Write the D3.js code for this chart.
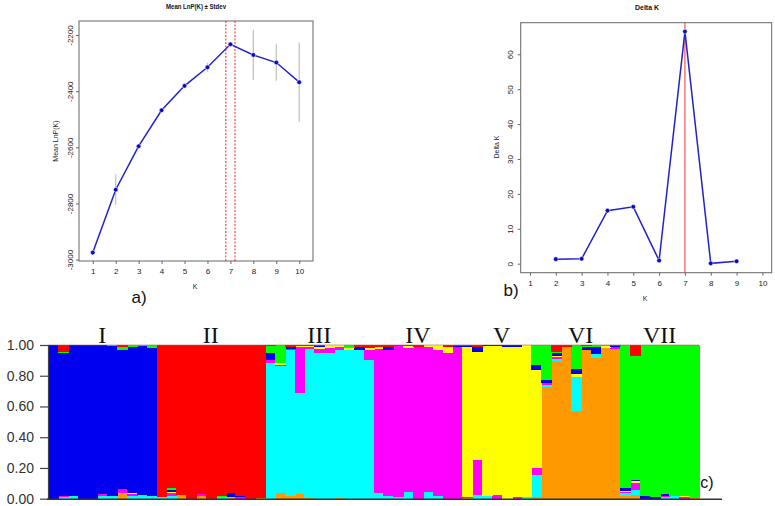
<!DOCTYPE html>
<html><head><meta charset="utf-8">
<script src="https://cdn.jsdelivr.net/npm/d3@7/dist/d3.min.js"></script>
<style>body{margin:0;background:#fff}svg{display:block}</style>
</head><body><svg id="c" width="775" height="506"></svg>
<script>
// ---------- Panel a: Mean LnP(K) ± Stdev ----------
const kValues = [1,2,3,4,5,6,7,8,9,10];
const lnpMean = [-2975,-2751,-2596,-2468,-2381,-2315,-2233,-2271,-2298,-2368];
const lnpSd   = [5,54,8,5,5,16,5,90,65,141];
const lnpTicks = [-3000,-2800,-2600,-2400,-2200];
const lnpMarks = [6.8,7.2];

// ---------- Panel b: Delta K ----------
const deltaKs = [2,3,4,5,6,7,8,9];
const deltaVals = [1.3,1.4,15.2,16.3,0.9,66.5,0.1,0.7];
const deltaTicks = [0,10,20,30,40,50,60];
const deltaMark = 7;

// ---------- Panel c: STRUCTURE bar plot (K = 7) ----------
const groupLabels = ["I","II","III","IV","V","VI","VII"];
const groupSizes  = [11,11,11,9,8,8,8];
const clusterKeys = ["orange","cyan","magenta","yellow","blue","green","red"];
const clusterColors = ["#ff9900","#00ffff","#ff00ff","#ffff00","#0000f0","#00ff00","#ff0000"];
const qOrange = [0,0,0,0,0,0,0,0.03,0,0,0, 0,0,0.025,0,0.02,0,0,0.005,0,0,0.005,
  0,0.04,0.015,0.03,0.005,0,0,0.005,0,0,0, 0,0,0,0,0,0,0,0,0,
  0.005,0,0,0,0,0,0,0.01, 0.725,0.895,0.985,0.57,0.965,0.915,0.98,0.975, 0.02,0.025,0,0,0,0,0,0.005];
const qCyan = [0,0.01,0.015,0,0,0.015,0.015,0.01,0.02,0.025,0.015, 0.01,0.02,0,0,0,0,0.01,0.005,0,0,0,
  0.88,0.825,0.95,0.655,0.97,0.945,0.95,0.96,0.97,0.965,0.90, 0.04,0.015,0.01,0.045,0,0.045,0.015,0,0,
  0,0.025,0.015,0,0,0,0.01,0.145, 0.015,0.015,0,0.225,0,0.025,0,0, 0.015,0.03,0,0,0.01,0.015,0,0];
const qMagenta = [0,0.01,0,0,0,0.015,0,0.02,0.01,0,0.005, 0,0.02,0,0,0.01,0,0,0,0.01,0,0,
  0.02,0.005,0.01,0.30,0.01,0.03,0.03,0.02,0,0.005,0.07, 0.935,0.955,0.985,0.935,0.985,0.94,0.955,0.945,0.985,
  0.005,0.225,0,0.025,0,0.01,0,0.045, 0.01,0.015,0.005,0,0,0,0,0.01, 0.01,0.05,0,0,0.01,0,0.01,0];
const qYellow = [0,0,0,0,0,0,0,0,0.005,0,0, 0,0.005,0,0,0,0,0,0,0,0,0,
  0,0.01,0,0.01,0.01,0.01,0.02,0.015,0.01,0,0.01, 0.015,0,0,0.015,0,0.015,0.03,0.04,0,
  0.98,0.705,0.98,0.97,0.99,0.98,0.99,0.64, 0,0.005,0,0.015,0,0,0.015,0, 0.005,0.01,0,0,0,0,0.01,0];
const qBlue = [1,0.93,0.985,1,1,0.97,0.98,0.905,0.955,0.97,0.96, 0,0.01,0,0,0,0,0,0.025,0.005,0,0,
  0.045,0,0.015,0,0,0.01,0,0,0,0.02,0, 0,0.02,0,0,0.005,0,0,0.005,0.01,
  0.005,0.033,0.005,0.005,0.01,0.01,0,0.03, 0.02,0.015,0,0.033,0.02,0.045,0,0.01, 0.02,0.005,0.015,0.012,0.01,0,0,0];
const qGreen = [0,0.005,0,0,0,0,0.005,0.025,0.01,0.005,0.02, 0,0.015,0,0,0,0,0.01,0.005,0,0,0,
  0.05,0.12,0,0,0,0,0,0,0.02,0,0, 0,0,0,0,0,0,0,0,0,
  0,0,0,0,0,0,0,0.13, 0.23,0.01,0,0.157,0.01,0.015,0.005,0, 0.93,0.81,0.985,0.988,0.97,0.985,0.98,0.995];
const qRed = [0,0.045,0,0,0,0,0,0.01,0,0,0, 0.99,0.93,0.975,1,0.97,1,0.98,0.96,0.985,1,0.995,
  0.005,0,0.01,0.005,0.005,0.005,0,0,0,0.01,0.02, 0.01,0.01,0.005,0.005,0.01,0,0,0.01,0.005,
  0.005,0.012,0,0,0,0,0,0, 0,0.045,0.01,0,0.005,0,0,0.005, 0,0.07,0,0,0,0,0,0];
const qTicks = [0,0.2,0.4,0.6,0.8,1.0];

const FONT = "'Liberation Sans', Arial, sans-serif";
const svg = d3.select("#c");

function styleAxis(g, size){
  g.select(".domain").remove();
  g.selectAll(".tick line").attr("stroke","#666");
  g.selectAll(".tick text").attr("font-family",FONT).attr("font-size",size).attr("fill","#222");
}

// ================= Panel a =================
const xA = d3.scaleLinear().domain([0.4,10.6]).range([79,313]);
const yA = d3.scaleLinear().domain([-3005,-2150]).range([261,21]);
const gA = svg.append("g");
gA.append("g").attr("transform","translate(0,261)")
  .call(d3.axisBottom(xA).tickValues(kValues).tickSize(3).tickPadding(4)).call(styleAxis,8);
gA.append("g").attr("transform","translate(79,0)")
  .call(d3.axisLeft(yA).tickValues(lnpTicks).tickSize(3).tickFormat(d=>String(d))).call(styleAxis,8)
  .selectAll(".tick text").attr("x",0).attr("dy",0).attr("text-anchor","middle")
  .attr("transform","translate(-6,0) rotate(-90)");
gA.append("rect").attr("x",79).attr("y",21).attr("width",234).attr("height",240)
  .attr("fill","none").attr("stroke","#666").attr("stroke-width",1);
gA.selectAll(".vmark").data(lnpMarks).join("line")
  .attr("x1",d=>xA(d)).attr("x2",d=>xA(d)).attr("y1",21).attr("y2",261)
  .attr("stroke","#ff2020").attr("stroke-width",1).attr("stroke-dasharray","2,1.5");
gA.selectAll(".err").data(kValues).join("line")
  .attr("x1",(d)=>xA(d)).attr("x2",(d)=>xA(d))
  .attr("y1",(d,i)=>yA(lnpMean[i]-lnpSd[i])).attr("y2",(d,i)=>yA(lnpMean[i]+lnpSd[i]))
  .attr("stroke","#c4c4c4").attr("stroke-width",1.3);
gA.append("path").datum(kValues)
  .attr("d",d3.line().x(d=>xA(d)).y((d,i)=>yA(lnpMean[i])))
  .attr("fill","none").attr("stroke","#2222cc").attr("stroke-width",1.5);
gA.selectAll(".pt").data(kValues).join("circle")
  .attr("cx",d=>xA(d)).attr("cy",(d,i)=>yA(lnpMean[i])).attr("r",2.3)
  .attr("fill","#0808c8").attr("stroke","#fff").attr("stroke-width",0.5);
gA.append("text").attr("x",196).attr("y",8.5).attr("text-anchor","middle")
  .attr("font-family",FONT).attr("font-weight","bold").attr("font-size",7.5)
  .attr("textLength",60).attr("lengthAdjust","spacingAndGlyphs").attr("fill","#111")
  .text("Mean LnP(K) ± Stdev");
gA.append("text").attr("x",195).attr("y",288.5).attr("text-anchor","middle")
  .attr("font-family",FONT).attr("font-size",7).attr("fill","#222").text("K");
gA.append("text").attr("transform","translate(57.5,141) rotate(-90)").attr("text-anchor","middle")
  .attr("font-family",FONT).attr("font-size",7).attr("fill","#222").text("Mean LnP(K)");
gA.append("text").attr("x",139).attr("y",303).attr("text-anchor","middle")
  .attr("font-family",FONT).attr("font-size",17).attr("fill","#111").text("a)");

// ================= Panel b =================
const xB = d3.scaleLinear().domain([0.64,10.36]).range([520.7,771.7]);
const yB = d3.scaleLinear().domain([-2.58,69.05]).range([272.7,22.7]);
const gB = svg.append("g");
gB.append("g").attr("transform","translate(0,272.7)")
  .call(d3.axisBottom(xB).tickValues(kValues).tickSize(3).tickPadding(5)).call(styleAxis,8);
gB.append("g").attr("transform","translate(520.7,0)")
  .call(d3.axisLeft(yB).tickValues(deltaTicks).tickSize(3).tickFormat(d=>String(d))).call(styleAxis,8)
  .selectAll(".tick text").attr("x",0).attr("dy",0).attr("text-anchor","middle")
  .attr("transform","translate(-8,0) rotate(-90)");
gB.append("rect").attr("x",520.7).attr("y",22.7).attr("width",251).attr("height",250)
  .attr("fill","none").attr("stroke","#666").attr("stroke-width",1);
gB.append("line").attr("x1",xB(deltaMark)).attr("x2",xB(deltaMark)).attr("y1",22.7).attr("y2",272.7)
  .attr("stroke","#ff3030").attr("stroke-width",1);
gB.append("path").datum(deltaKs)
  .attr("d",d3.line().x(d=>xB(d)).y((d,i)=>yB(deltaVals[i])))
  .attr("fill","none").attr("stroke","#2222cc").attr("stroke-width",1.5);
gB.selectAll(".pt").data(deltaKs).join("circle")
  .attr("cx",d=>xB(d)).attr("cy",(d,i)=>yB(deltaVals[i])).attr("r",2.3)
  .attr("fill","#0808c8").attr("stroke","#fff").attr("stroke-width",0.5);
gB.append("text").attr("x",647).attr("y",10).attr("text-anchor","middle")
  .attr("font-family",FONT).attr("font-weight","bold").attr("font-size",7).attr("fill","#111").text("Delta K");
gB.append("text").attr("x",645).attr("y",301).attr("text-anchor","middle")
  .attr("font-family",FONT).attr("font-size",7).attr("fill","#222").text("K");
gB.append("text").attr("transform","translate(498.5,147) rotate(-90)").attr("text-anchor","middle")
  .attr("font-family",FONT).attr("font-size",7).attr("fill","#222").text("Delta K");
gB.append("text").attr("x",511).attr("y",296).attr("text-anchor","middle")
  .attr("font-family",FONT).attr("font-size",17).attr("fill","#111").text("b)");

// ================= Panel c =================
const nInd = qOrange.length;
const rows = d3.range(nInd).map(i=>({
  id:i, orange:qOrange[i], cyan:qCyan[i], magenta:qMagenta[i], yellow:qYellow[i],
  blue:qBlue[i], green:qGreen[i], red:qRed[i]
}));
const xC = d3.scaleBand().domain(d3.range(nInd)).range([48,699]).padding(0);
const yC = d3.scaleLinear().domain([0,1]).range([498.7,345]);
const color = d3.scaleOrdinal().domain(clusterKeys).range(clusterColors);
const stacked = d3.stack().keys(clusterKeys)(rows);
const gC = svg.append("g");
gC.selectAll("g.layer").data(stacked).join("g").attr("class","layer")
  .attr("fill",d=>color(d.key)).attr("shape-rendering","crispEdges")
  .selectAll("rect").data(d=>d.filter(p=>p[1]-p[0]>0)).join("rect")
  .attr("x",d=>xC(d.data.id)).attr("width",xC.bandwidth()+1)
  .attr("y",d=>yC(d[1])).attr("height",d=>yC(d[0])-yC(d[1]));
gC.append("line").attr("x1",48).attr("x2",699).attr("y1",yC(1)).attr("y2",yC(1))
  .attr("stroke","#9a6a50").attr("stroke-width",0.8).attr("opacity",0.7);

const yAxC = gC.append("g").attr("transform","translate(48,0)")
  .call(d3.axisLeft(yC).tickValues(qTicks).tickFormat(d3.format(".2f")).tickSize(8).tickSizeOuter(0).tickPadding(6));
yAxC.select(".domain").attr("stroke","#444").attr("stroke-width",1.2);
yAxC.selectAll(".tick line").attr("stroke","#444").attr("stroke-width",1.2);
yAxC.selectAll(".tick text").attr("font-family",FONT).attr("font-size",14).attr("fill","#333");
gC.append("line").attr("x1",47).attr("x2",722).attr("y1",499.2).attr("y2",499.2)
  .attr("stroke","#333").attr("stroke-width",1.5);

// group labels at group centres
let start = 0;
const groupCenters = groupSizes.map(n=>{ const c = start + n/2; start += n; return c; });
gC.selectAll(".glab").data(groupLabels).join("text")
  .attr("x",(d,i)=>xC(0) + groupCenters[i]*xC.step()).attr("y",343)
  .attr("text-anchor","middle").attr("font-family","'Liberation Serif', 'Times New Roman', serif")
  .attr("font-size",24).attr("fill","#111").text(d=>d);
gC.append("text").attr("x",707).attr("y",488).attr("text-anchor","middle")
  .attr("font-family",FONT).attr("font-size",16).attr("fill","#111").text("c)");
</script></body></html>
